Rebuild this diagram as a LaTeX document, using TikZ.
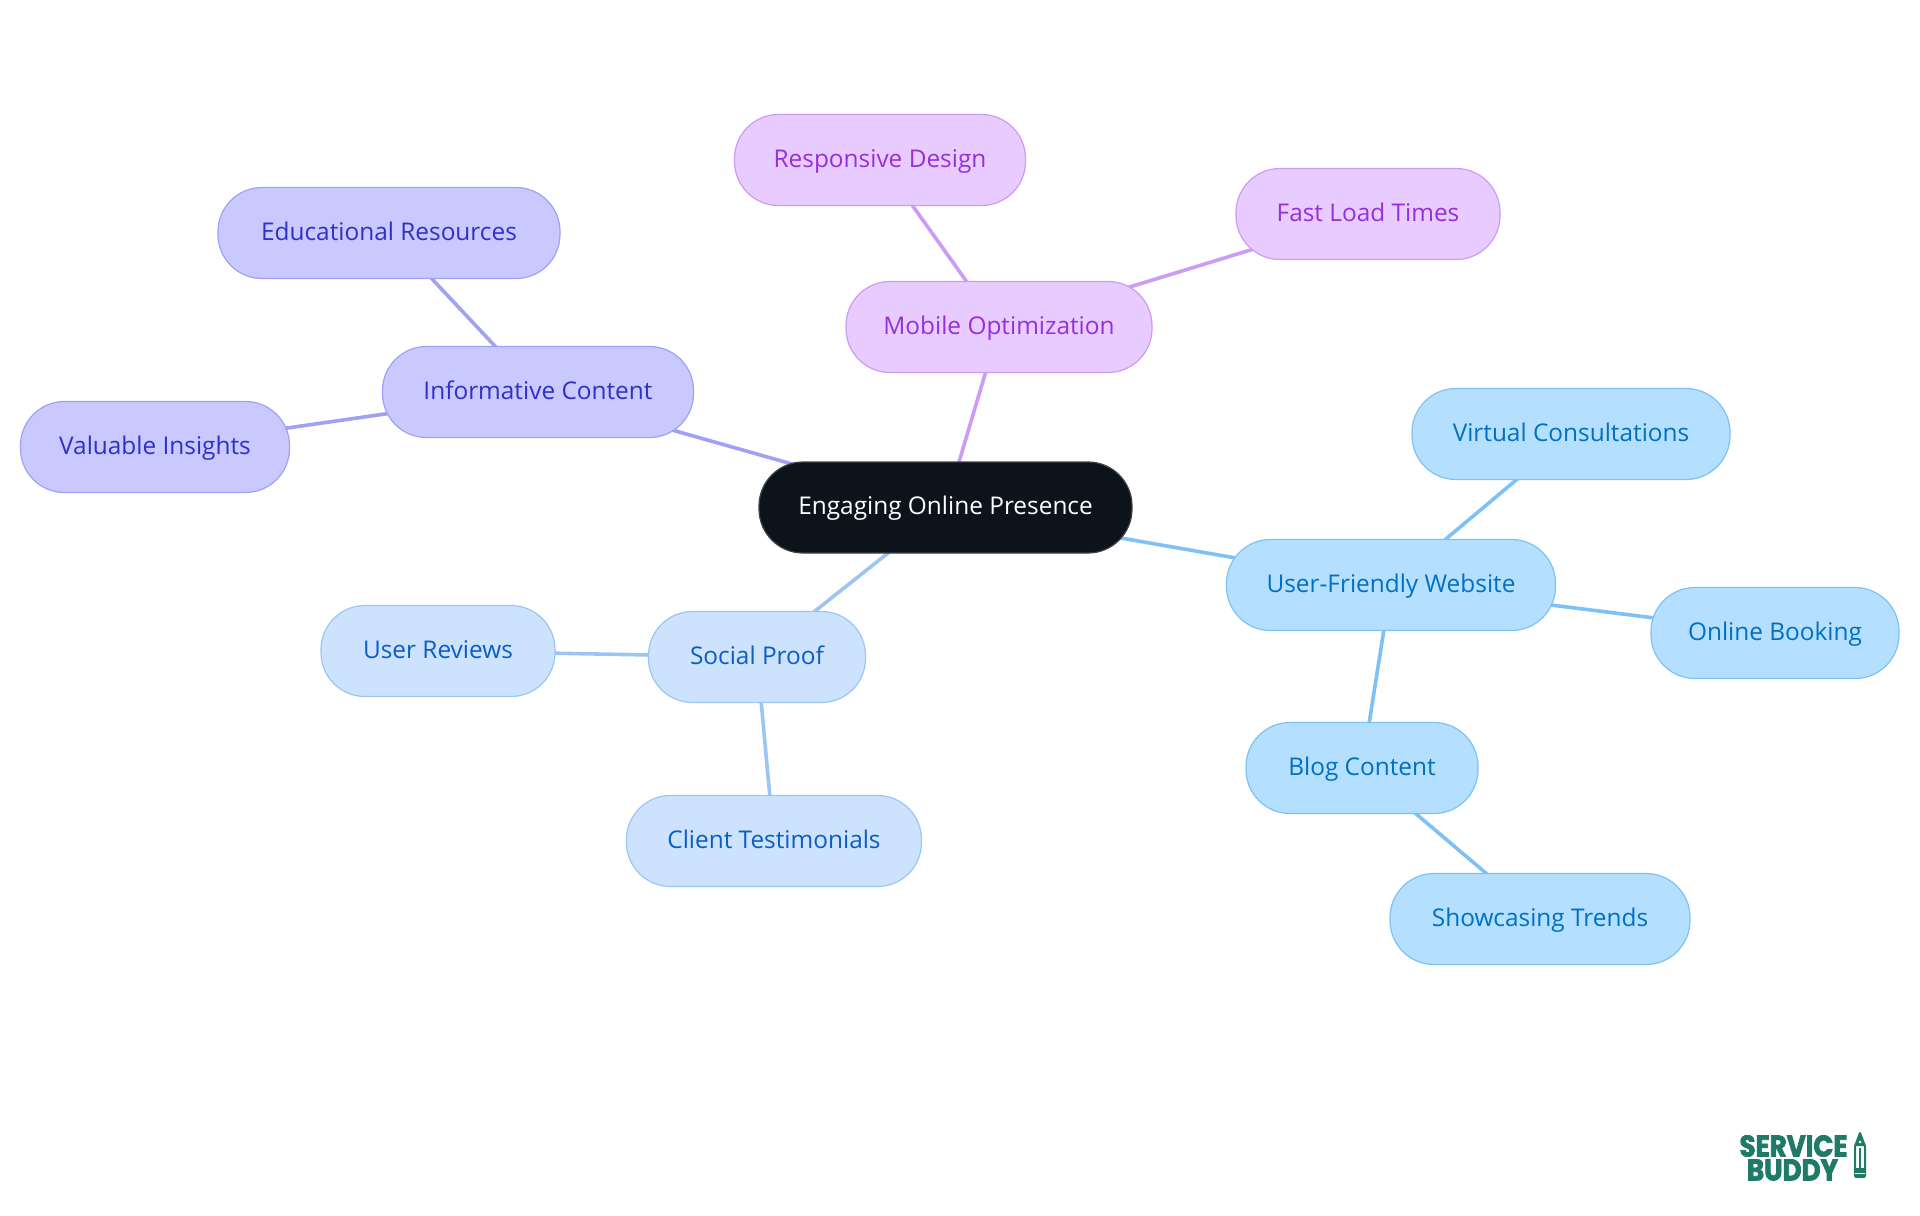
\documentclass[tikz,border=0pt]{standalone}
\usepackage{fontspec}
\usepackage{tikz}
\usetikzlibrary{backgrounds}
\setmainfont{Open Sans}
\newfontfamily\logofont[FakeBold=2.5,FakeStretch=0.87]{Poppins}
\definecolor{rootback}{RGB}{13,19,26}
\definecolor{mobileback}{RGB}{232,203,255}
\definecolor{mobileline}{RGB}{203,155,245}
\definecolor{mobiletext}{RGB}{149,48,220}
\definecolor{siteback}{RGB}{180,223,255}
\definecolor{siteline}{RGB}{126,194,245}
\definecolor{sitetext}{RGB}{0,112,196}
\definecolor{proofback}{RGB}{205,227,253}
\definecolor{proofline}{RGB}{157,197,242}
\definecolor{prooftext}{RGB}{11,93,196}
\definecolor{infoback}{RGB}{201,201,255}
\definecolor{infoline}{RGB}{160,160,245}
\definecolor{infotext}{RGB}{48,48,200}
\definecolor{logogreen}{RGB}{31,122,104}
\tikzset{
  mapnode/.style={rectangle,rounded corners=22pt,minimum height=45.5pt,inner sep=0pt,line width=0.6pt,text height=9.5pt,text depth=2.5pt,font=\fontsize{12.2}{14}\selectfont},
  rootnode/.style={mapnode,fill=rootback,draw=rootback!80!white,text=white},
  mobilenode/.style={mapnode,fill=mobileback,draw=mobileline,text=mobiletext},
  sitenode/.style={mapnode,fill=siteback,draw=siteline,text=sitetext},
  proofnode/.style={mapnode,fill=proofback,draw=proofline,text=prooftext},
  infonode/.style={mapnode,fill=infoback,draw=infoline,text=infotext},
  logotext/.style={text=logogreen,inner sep=0pt,font=\logofont\bfseries\fontsize{15}{15}\selectfont},
  mapedge/.style={line width=1.8pt}
}
\begin{document}
\begin{tikzpicture}[x=0.5pt,y=-0.5pt]
\useasboundingbox (0,0) rectangle (1920,1215);
\node [rootnode,minimum width=186.5pt] (root) at (945.5,507.5) {Engaging Online Presence};
\node [mobilenode,minimum width=153pt] (mobile) at (999,327) {Mobile Optimization};
\node [mobilenode,minimum width=145.5pt] (responsive) at (880,160) {Responsive Design};
\node [mobilenode,minimum width=132pt] (fastload) at (1368,214) {Fast Load Times};
\node [infonode,minimum width=155.5pt] (informative) at (538,392) {Informative Content};
\node [infonode,minimum width=171pt] (educational) at (389,233) {Educational Resources};
\node [infonode,minimum width=134.5pt] (valuable) at (155,447) {Valuable Insights};
\node [proofnode,minimum width=108.5pt] (social) at (757,657) {Social Proof};
\node [proofnode,minimum width=117pt] (reviews) at (438,651) {User Reviews};
\node [proofnode,minimum width=147.5pt] (testimonials) at (774,841) {Client Testimonials};
\node [sitenode,minimum width=164.5pt] (website) at (1391,585) {User-Friendly Website};
\node [sitenode,minimum width=159pt] (virtual) at (1571,434) {Virtual Consultations};
\node [sitenode,minimum width=124pt] (booking) at (1775,633) {Online Booking};
\node [sitenode,minimum width=116pt] (blog) at (1362,768) {Blog Content};
\node [sitenode,minimum width=150pt] (trends) at (1540,919) {Showcasing Trends};
\begin{scope}[on background layer]
\foreach \a/\b in {root/mobile,mobile/responsive,mobile/fastload}
  \draw [mapedge,mobileline] (\a.center) -- (\b.center);
\foreach \a/\b in {root/informative,informative/educational,informative/valuable}
  \draw [mapedge,infoline] (\a.center) -- (\b.center);
\foreach \a/\b in {root/social,social/reviews,social/testimonials}
  \draw [mapedge,proofline] (\a.center) -- (\b.center);
\foreach \a/\b in {root/website,website/virtual,website/booking,website/blog,blog/trends}
  \draw [mapedge,siteline] (\a.center) -- (\b.center);
\end{scope}
\node [logotext] (service) at (1793.5,1146) {SERVICE};
\node [logotext] (buddy) at (1792.5,1170) {BUDDY};
\draw [logogreen,line width=1pt,line join=round] (1855,1146) -- (1860,1133) -- (1865,1146) -- (1865,1176) arc (0:-180:5) -- cycle;
\fill [logogreen] (1855,1146) -- (1860,1133) -- (1865,1146) -- cycle;
\fill [white] (1860,1142) circle (1.5);
\draw [logogreen,line width=0.8pt] (1860,1148) -- (1860,1168);
\fill [logogreen] (1855,1168) rectangle (1865,1178);
\draw [white,line width=0.5pt] (1855,1173) -- (1865,1173);
\end{tikzpicture}
\end{document}
